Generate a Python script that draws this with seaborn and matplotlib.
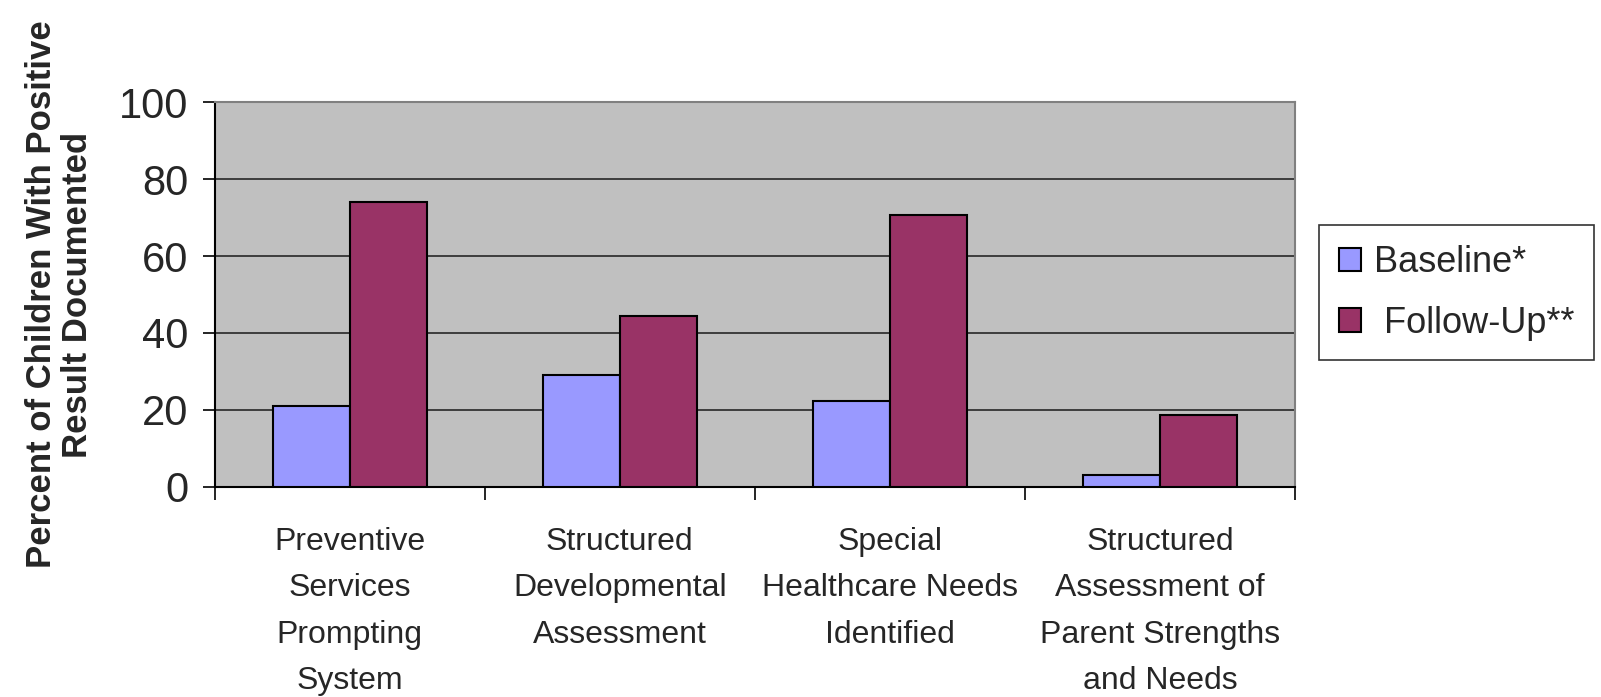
import matplotlib
matplotlib.use("Agg")
import matplotlib.pyplot as plt
import seaborn as sns
import pandas as pd
from matplotlib.ticker import FixedLocator

categories = [
    "Preventive\nServices\nPrompting\nSystem",
    "Structured\nDevelopmental\nAssessment",
    "Special\nHealthcare Needs\nIdentified",
    "Structured\nAssessment of\nParent Strengths\nand Needs",
]
series = ["Baseline*", " Follow-Up**"]
baseline = [21, 29, 22.3, 3]
follow_up = [74.2, 44.5, 70.8, 18.6]
yticks = [0, 20, 40, 60, 80, 100]

df = pd.DataFrame({
    "category": categories * 2,
    "group": [series[0]] * 4 + [series[1]] * 4,
    "value": baseline + follow_up,
})

sns.set_style("white")
plt.rcParams["font.family"] = ["Liberation Sans", "DejaVu Sans"]

fig = plt.figure(figsize=(16.01, 6.97), dpi=100)
ax = fig.add_axes([0.134, 0.302, 0.675, 0.551])
ax.set_facecolor("#C0C0C0")

sns.barplot(
    data=df, x="category", y="value", hue="group",
    palette=["#9999FF", "#993366"], width=0.57, gap=0,
    edgecolor="black", linewidth=1.5, saturation=1, ax=ax, zorder=3,
)

ax.set_ylim(0, 100)
ax.set_xlim(-0.5, len(categories) - 0.5)
ax.set_yticks(yticks)
ax.set_yticklabels([str(t) for t in yticks], fontsize=30)
ax.grid(axis="y", color="#1a1a1a", linewidth=1.1, zorder=1)
ax.set_axisbelow(True)

ax.tick_params(axis="y", direction="out", length=9, width=1.2, color="black",
               left=True, pad=10)
ax.tick_params(axis="x", which="major", length=0, pad=29, labelsize=23)
ax.xaxis.set_minor_locator(FixedLocator([i - 0.5 for i in range(len(categories) + 1)]))
ax.tick_params(axis="x", which="minor", direction="out", length=9, width=1.2,
               color="black", bottom=True)
for lbl in ax.get_xticklabels():
    lbl.set_linespacing(1.72)
    lbl.set_verticalalignment("top")

for side in ["top", "right"]:
    ax.spines[side].set_color("#808080")
    ax.spines[side].set_linewidth(1.5)
for side in ["left", "bottom"]:
    ax.spines[side].set_color("black")
    ax.spines[side].set_linewidth(1.5)

ax.set_xlabel("")
ax.set_ylabel("Percent of Children With Positive\nResult Documented",
              fontsize=25, fontweight="bold",
              linespacing=1.1, labelpad=18)

leg = ax.legend(
    loc="center left", bbox_to_anchor=(1.022, 0.504), fontsize=26,
    frameon=True, fancybox=False, edgecolor="#333333", framealpha=1,
    handlelength=0.62, handleheight=0.62, handletextpad=0.35,
    labelspacing=0.7, borderpad=0.55, borderaxespad=0,
)
leg.get_frame().set_linewidth(1.2)

fig.savefig("out.png", dpi=100, facecolor="white")
